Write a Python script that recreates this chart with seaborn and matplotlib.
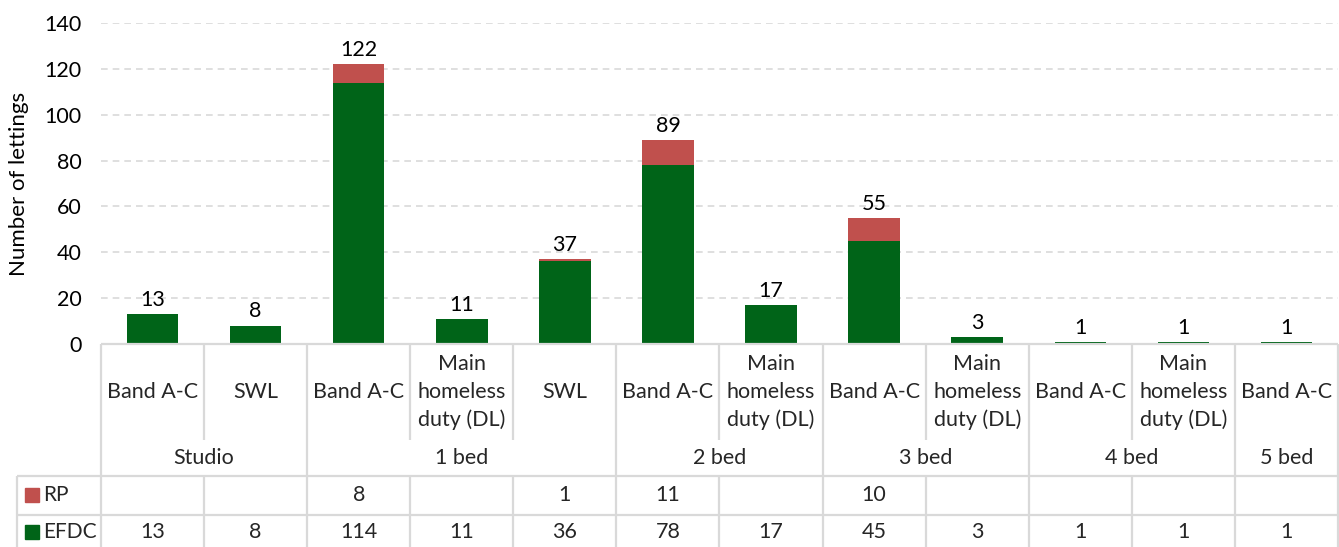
import pandas as pd
import matplotlib.pyplot as plt
import matplotlib.transforms as mtransforms
from matplotlib.patches import Rectangle
from matplotlib.lines import Line2D
import seaborn as sns

# Datos
grupos = ["Studio", "Studio", "1 bed", "1 bed", "1 bed", "2 bed", "2 bed",
          "3 bed", "3 bed", "4 bed", "4 bed", "5 bed"]
subcats = ["Band A-C", "SWL", "Band A-C", "Main\nhomeless\nduty (DL)", "SWL",
           "Band A-C", "Main\nhomeless\nduty (DL)", "Band A-C",
           "Main\nhomeless\nduty (DL)", "Band A-C", "Main\nhomeless\nduty (DL)",
           "Band A-C"]
rp = [None, None, 8, None, 1, 11, None, 10, None, None, None, None]
efdc = [13, 8, 114, 11, 36, 78, 17, 45, 3, 1, 1, 1]

VERDE = "#006418"
ROJO = "#C0504D"
GRIS = "#D9D9D9"

sns.set_theme(style="white")
plt.rcParams['font.family'] = ['Lato', 'DejaVu Sans']
FS = 15.5

df = pd.DataFrame({
    'slot': [f"{g}|{s}" for g, s in zip(grupos, subcats)],
    'rp': [v or 0 for v in rp],
    'efdc': efdc,
})
df['total'] = df['rp'] + df['efdc']

W, H = 1339, 547
fig = plt.figure(figsize=(W / 100, H / 100), dpi=100)
ax = fig.add_axes([101 / W, 1 - 344 / H, 1237 / W, 321 / H])

# Barras apiladas: total (RP) debajo, EFDC encima
sns.barplot(data=df, x='slot', y='total', color=ROJO, width=0.5,
            saturation=1, ax=ax, edgecolor='none')
sns.barplot(data=df, x='slot', y='efdc', color=VERDE, width=0.5,
            saturation=1, ax=ax, edgecolor='none')

for i, t in enumerate(df['total']):
    ax.annotate(str(t), (i, t), xytext=(0, 3), textcoords='offset points',
                ha='center', va='bottom', fontsize=FS, color='black')

ax.set_xlim(-0.5, len(df) - 0.5)
ax.set_ylim(0, 140)
ax.set_yticks(range(0, 141, 20))
ax.tick_params(axis='y', labelsize=FS, length=0, pad=14, labelcolor='black')
ax.set_xticks([])
ax.set_xlabel('')
ax.set_ylabel('Number of lettings', fontsize=FS + 0.5, color='black')
ax.yaxis.set_label_coords(-0.058, 0.5)
ax.grid(axis='y', color=GRIS, linestyle=(0, (4, 3)), linewidth=1.2)
ax.set_axisbelow(True)
for s in ['top', 'right', 'left', 'bottom']:
    ax.spines[s].set_visible(False)

# Tabla de datos bajo el gráfico
tr = mtransforms.blended_transform_factory(ax.transData, fig.transFigure)
fy = lambda py: 1 - py / H
fx = lambda px: px / W
n = len(df)
lw = 1.6

def linea(xs, ys, transform):
    fig.add_artist(Line2D(xs, ys, transform=transform, color=GRIS, lw=lw,
                          solid_capstyle='butt'))

# líneas horizontales
linea([-0.5, n - 0.5], [fy(344), fy(344)], tr)
linea([fx(17), fx(1338)], [fy(476), fy(476)], fig.transFigure)
linea([fx(17), fx(1338)], [fy(515), fy(515)], fig.transFigure)
linea([fx(17), fx(17)], [fy(476), fy(547)], fig.transFigure)

# líneas verticales
for k in range(n + 1):
    xb = k - 0.5
    borde = k == 0 or k == n or grupos[k - 1] != grupos[k]
    if borde:
        linea([xb, xb], [fy(344), fy(547)], tr)
    else:
        linea([xb, xb], [fy(344), fy(440)], tr)
        linea([xb, xb], [fy(476), fy(547)], tr)

for i, s in enumerate(subcats):
    fig.text(i, fy(392), s, transform=tr, ha='center', va='center',
             fontsize=FS, linespacing=1.45)
    if rp[i] is not None:
        fig.text(i, fy(495), str(rp[i]), transform=tr, ha='center',
                 va='center', fontsize=FS)
    fig.text(i, fy(532), str(efdc[i]), transform=tr, ha='center',
             va='center', fontsize=FS)

# etiquetas de grupo
inicio = 0
for k in range(1, n + 1):
    if k == n or grupos[k] != grupos[inicio]:
        fig.text((inicio + k - 1) / 2, fy(458), grupos[inicio], transform=tr,
                 ha='center', va='center', fontsize=FS)
        inicio = k

# leyenda en la tabla
for nombre, col, py in [('RP', ROJO, 495), ('EFDC', VERDE, 532)]:
    fig.add_artist(Rectangle((fx(25), fy(py + 7)), 14 / W, 14 / H,
                             transform=fig.transFigure, color=col))
    fig.text(fx(43), fy(py), nombre, ha='left', va='center', fontsize=FS - 0.5)

fig.savefig('out.png', dpi=100)
